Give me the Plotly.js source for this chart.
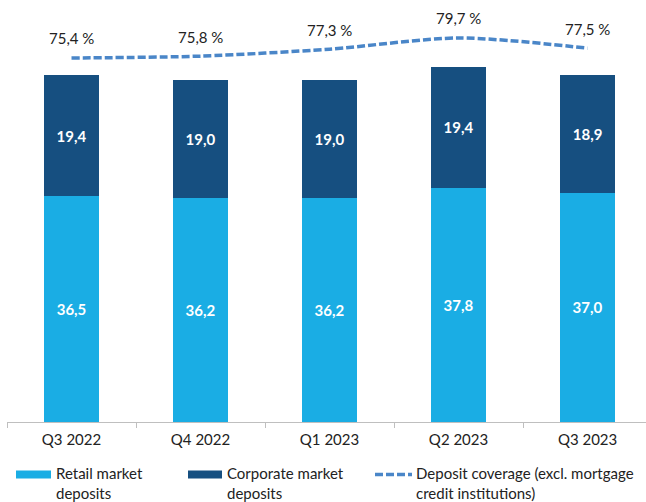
<!DOCTYPE html>
<html>
<head>
<meta charset="utf-8">
<script src="https://cdn.plot.ly/plotly-3.0.1.min.js"></script>
<style>html,body{margin:0;padding:0;background:#fff;}#chart{width:646px;height:502px;}</style>
</head>
<body>
<div id="chart"></div>
<script>
// ---- data ----
const categories = ['Q3 2022', 'Q4 2022', 'Q1 2023', 'Q2 2023', 'Q3 2023'];
const retail = [36.5, 36.2, 36.2, 37.8, 37.0];
const corporate = [19.4, 19.0, 19.0, 19.4, 18.9];
const coverage = [75.4, 75.8, 77.3, 79.7, 77.5];
const seriesNames = ['Retail market<br>deposits', 'Corporate market<br>deposits', 'Deposit coverage (excl. mortgage<br>credit institutions)'];

// ---- styles ----
const FONT = 'Lato, "Open Sans", sans-serif';
const C_RETAIL = '#1AADE4';
const C_CORP = '#164F80';
const C_LINE = '#4A86C8';
const fmt = v => v.toFixed(1).replace('.', ',');

const W = 646, H = 502;
const M = {l: 7, r: 0, t: 0, b: 80};
const px = x => (x - M.l) / (W - M.l - M.r);
const py = y => (H - M.b - y) / (H - M.t - M.b);

const traces = [
  {
    type: 'bar', x: categories, y: retail, name: 'Retail market deposits',
    marker: {color: C_RETAIL},
    text: retail.map(fmt), textposition: 'inside', insidetextanchor: 'middle', textangle: 0,
    textfont: {family: FONT, size: 15, color: '#ffffff', weight: 'bold'},
    hoverinfo: 'skip', showlegend: false
  },
  {
    type: 'bar', x: categories, y: corporate, name: 'Corporate market deposits',
    marker: {color: C_CORP},
    text: corporate.map(fmt), textposition: 'inside', insidetextanchor: 'middle', textangle: 0,
    textfont: {family: FONT, size: 15, color: '#ffffff', weight: 'bold'},
    hoverinfo: 'skip', showlegend: false
  },
  {
    type: 'scatter', mode: 'lines', x: categories, y: coverage, yaxis: 'y2',
    name: 'Deposit coverage',
    line: {color: C_LINE, width: 3.5, dash: '8px,3px', shape: 'spline', smoothing: 0.8},
    hoverinfo: 'skip', showlegend: false
  }
];

const annotations = categories.map((c, i) => ({
  x: c, y: coverage[i], xref: 'x', yref: 'y2',
  text: fmt(coverage[i]) + ' %', showarrow: false,
  yanchor: 'middle', xanchor: 'center', yshift: 19.5,
  font: {family: FONT, size: 15, color: '#222222'}
}));

// custom legend
const legendX = [16, 188, 375];
const textX = [54, 225, 414];
const shapes = [
  {type: 'rect', xref: 'paper', yref: 'paper', x0: px(legendX[0]), x1: px(51), y0: py(470.5), y1: py(478.5), fillcolor: C_RETAIL, line: {width: 0}},
  {type: 'rect', xref: 'paper', yref: 'paper', x0: px(legendX[1]), x1: px(222), y0: py(470.5), y1: py(478.5), fillcolor: C_CORP, line: {width: 0}},
  {type: 'line', xref: 'paper', yref: 'paper', x0: px(legendX[2]), x1: px(412), y0: py(474.5), y1: py(474.5), line: {color: C_LINE, width: 3.5, dash: '8px,3px'}}
];
seriesNames.forEach((t, i) => {
  annotations.push({
    xref: 'paper', yref: 'paper', x: px(textX[i]), y: py(483),
    text: t, showarrow: false, xanchor: 'left', yanchor: 'middle', align: 'left',
    font: {family: FONT, size: 15, color: '#222222'}
  });
});

const layout = {
  width: W, height: H, margin: M,
  paper_bgcolor: '#ffffff', plot_bgcolor: '#ffffff',
  barmode: 'stack', bargap: 0.58,
  showlegend: false,
  xaxis: {
    type: 'category', range: [-0.5, 4.453], fixedrange: true,
    showline: true, linecolor: '#BFBFBF', linewidth: 1,
    ticks: 'outside', ticklen: 5, tickcolor: '#BFBFBF', tickson: 'boundaries',
    ticklabelstandoff: 4,
    showgrid: false, zeroline: false,
    tickfont: {family: FONT, size: 15, color: '#222222'}
  },
  yaxis: {range: [0, 68.06], visible: false, fixedrange: true, showgrid: false, zeroline: false},
  yaxis2: {range: [-2.88, 87.87], overlaying: 'y', visible: false, fixedrange: true, showgrid: false, zeroline: false},
  shapes: shapes,
  annotations: annotations
};

Plotly.newPlot('chart', traces, layout, {displayModeBar: false, staticPlot: true});
</script>
</body>
</html>
